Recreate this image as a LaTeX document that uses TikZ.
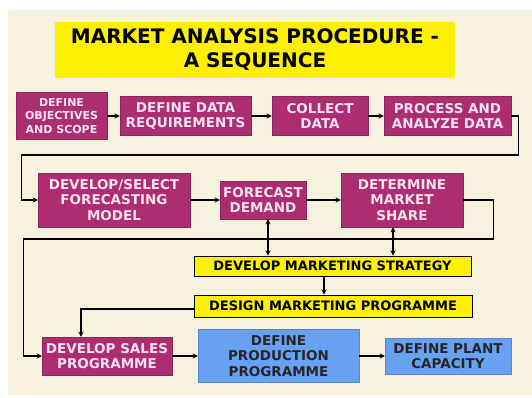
\documentclass[tikz,border=0pt]{standalone}
\usepackage{fontspec}
\setmainfont{DejaVu Sans}
\usepackage{tikz}
\usetikzlibrary{positioning}
\definecolor{cream}{RGB}{247,242,221}
\definecolor{plum}{RGB}{172,46,112}
\definecolor{plumtext}{RGB}{250,225,240}
\definecolor{sunny}{RGB}{255,240,0}
\definecolor{sky}{RGB}{104,160,242}
\tikzstyle{heading} = [rectangle, minimum width=400pt, minimum height=56pt, text centered, align=center, fill=sunny, font=\fontsize{20}{26}\selectfont\bfseries]
\tikzstyle{task} = [rectangle, inner sep=1pt, text centered, align=center, draw=plum!80!black, fill=plum, text=plumtext, font=\fontsize{13.5}{15.5}\selectfont\bfseries]
\tikzstyle{smalltask} = [task, font=\fontsize{11}{13.5}\selectfont\bfseries]
\tikzstyle{marketing} = [rectangle, inner sep=1pt, text centered, draw=black, thick, fill=sunny, font=\fontsize{13}{15}\selectfont\bfseries]
\tikzstyle{output} = [rectangle, inner sep=1pt, text centered, align=center, draw=sky!85!black, fill=sky, text=black!85, font=\fontsize{13.5}{15.5}\selectfont\bfseries]
\tikzstyle{arrow} = [line width=1.3pt,->,>=stealth]
\tikzstyle{twoway} = [line width=1.3pt,<->,>=stealth]

\begin{document}
\begin{tikzpicture}[x=1pt, y=-1pt]
        \useasboundingbox (0,0) rectangle (532,398);
        \fill[cream] (8,10) rectangle (532,395);

        \node[heading]                                          (title)        at (255,50)    {\raisebox{-2pt}{MARKET ANALYSIS PROCEDURE -}\\A SEQUENCE};

        \node[smalltask, minimum width=91pt, minimum height=47pt]  (objectives)   at (61.5,116) {DEFINE\\OBJECTIVES\\AND SCOPE};
        \node[task, minimum width=131pt, minimum height=39pt]      (requirements) at (185.5,116)  {DEFINE DATA\\REQUIREMENTS};
        \node[task, minimum width=96pt, minimum height=39pt]       (collect)      at (320,116)    {COLLECT\\DATA};
        \node[task, minimum width=127pt, minimum height=39pt]      (analyze)      at (447.5,116)  {PROCESS AND\\ANALYZE DATA};

        \node[task, minimum width=152pt, minimum height=54pt]      (model)        at (114,200)    {DEVELOP/SELECT\\FORECASTING\\MODEL};
        \node[task, minimum width=86pt, minimum height=38pt]       (forecast)     at (263,200)    {FORECAST\\DEMAND};
        \node[task, minimum width=122pt, minimum height=54pt]      (share)        at (402,200)    {DETERMINE\\MARKET\\SHARE};

        \node[marketing, minimum width=277pt, minimum height=20pt] (strategy)     at (332.5,266)  {DEVELOP MARKETING STRATEGY};
        \node[marketing, minimum width=278pt, minimum height=22pt] (programme)    at (333,306)    {DESIGN MARKETING PROGRAMME};

        \node[task, minimum width=130pt, minimum height=38pt]      (sales)        at (107,356)    {DEVELOP SALES\\PROGRAMME};
        \node[output, minimum width=161pt, minimum height=53pt]    (production)   at (278.5,356) {DEFINE\\PRODUCTION\\PROGRAMME};
        \node[output, minimum width=126pt, minimum height=36pt]    (capacity)     at (448,356)    {DEFINE PLANT\\CAPACITY};

        \draw[arrow] (objectives)   -- (requirements);
        \draw[arrow] (requirements) -- (collect);
        \draw[arrow] (collect)      -- (analyze);
        \draw[arrow] (analyze.east) -- ++(7,0) -- ++(0,39) -| ([xshift=-16pt]model.west) -- (model.west);

        \draw[arrow] (model)    -- (forecast);
        \draw[arrow] (forecast) -- (share);
        \draw[arrow] (share.east) -- ++(30,0) -- ++(0,39) -| ([xshift=-18pt]sales.west) -- (sales.west);

        \draw[twoway] ([xshift=5pt]forecast.south) -- ([xshift=5pt]forecast.south |- strategy.north);
        \draw[twoway] ([xshift=-9pt]share.south)   -- ([xshift=-9pt]share.south |- strategy.north);
        \draw[arrow]  ([xshift=-8.5pt]strategy.south) -- ([xshift=-8.5pt]strategy.south |- programme.north);
        \draw[arrow]  ([yshift=-3pt]programme.west) -| ([xshift=-26pt]sales.north);

        \draw[arrow] (sales)      -- (production);
        \draw[arrow] (production) -- (capacity);
    \end{tikzpicture}
\end{document}
